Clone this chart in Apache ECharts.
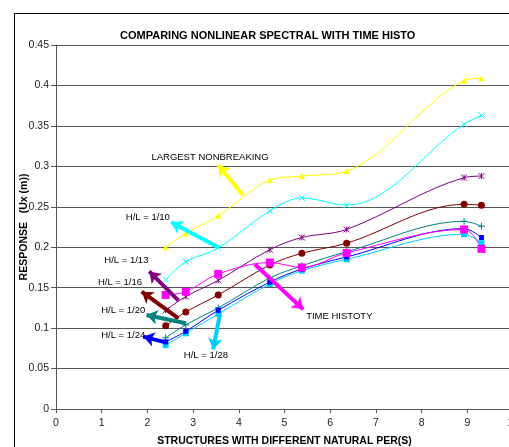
<!DOCTYPE html>
<html><head><meta charset="utf-8">
<script src="https://cdn.jsdelivr.net/npm/echarts@6/dist/echarts.min.js"></script>
<style>html,body{margin:0;padding:0;background:#fff}#c{width:509px;height:447px}</style>
</head><body><div id="c"></div>
<script>
const periods = [2.4, 2.84, 3.55, 4.68, 5.38, 6.36, 8.93, 9.31];
const nonbreaking = [0.200, 0.217, 0.239, 0.283, 0.288, 0.294, 0.406, 0.409];
const hl10 = [0.160, 0.182, 0.199, 0.245, 0.261, 0.252, 0.352, 0.363];
const hl13 = [0.122, 0.139, 0.159, 0.197, 0.212, 0.222, 0.286, 0.288];
const hl16 = [0.103, 0.120, 0.141, 0.178, 0.1925, 0.205, 0.253, 0.252];
const timeHistory = [0.141, 0.145, 0.167, 0.181, 0.175, 0.193, 0.222, 0.198];
const hl20 = [0.088, 0.104, 0.125, 0.162, 0.177, 0.1945, 0.232, 0.226];
const hl24 = [0.083, 0.096, 0.122, 0.157, 0.173, 0.188, 0.223, 0.212];
const hl28 = [0.079, 0.0936, 0.1175, 0.1545, 0.171, 0.185, 0.216, 0.205];
const xTicks = [0,1,2,3,4,5,6,7,8,9,10];
const yTicks = [0,0.05,0.1,0.15,0.2,0.25,0.3,0.35,0.4,0.45];

// annotation labels [text, x, y] and arrows [tailX, tailY, headX, headY] in data units
const annLabels = [
  ['LARGEST NONBREAKING', 3.37, 0.3115],
  ['H/L = 1/10', 2.01, 0.2374],
  ['H/L = 1/13', 1.54, 0.1842],
  ['H/L = 1/16', 1.40, 0.1561],
  ['H/L = 1/20', 1.47, 0.1215],
  ['H/L = 1/24', 1.47, 0.0915],
  ['H/L = 1/28', 3.28, 0.0659],
  ['TIME HISTOTY', 6.20, 0.115]
];
const arrowNonbreaking = [4.09, 0.2646, 3.55, 0.3016];
const arrow10 = [3.55, 0.1999, 2.52, 0.2308];
const arrow13 = [2.68, 0.1339, 2.04, 0.1701];
const arrow16 = [2.68, 0.1121, 1.875, 0.1450];
const arrow20 = [2.84, 0.1060, 1.98, 0.1162];
const arrow24 = [2.42, 0.0820, 1.91, 0.0894];
const arrow28 = [3.59, 0.1183, 3.44, 0.0738];
const arrowTime = [4.35, 0.1790, 5.41, 0.1232];

const X_PATH = 'path://M0,0L10,10M10,0L0,10';
const STAR_PATH = 'path://M0,0L10,10M10,0L0,10M5,0L5,10';
const PLUS_PATH = 'path://M5,0L5,10M0,5L10,5';

function mk(name, vals, color, symbol, size, arrow, stroke) {
  return {
    name, type: 'line', smooth: 0.35, data: periods.map((p, i) => [p, vals[i]]),
    symbol, symbolSize: size, showSymbol: true,
    lineStyle: { color, width: 1 },
    itemStyle: stroke ? { color, borderColor: color, borderWidth: 1 } : { color, borderWidth: 0 },
    markLine: {
      silent: true, symbol: ['none', 'arrow'], symbolSize: 11,
      label: { show: false },
      lineStyle: { color, width: 4, type: 'solid' },
      data: [[{ coord: [arrow[0], arrow[1]] }, { coord: [arrow[2], arrow[3]] }]]
    }
  };
}

const chart = echarts.init(document.getElementById('c'), null, { renderer: 'canvas' });
chart.setOption({
  animation: false,
  backgroundColor: '#fff',
  title: {
    text: 'COMPARING NONLINEAR SPECTRAL WITH TIME HISTO',
    left: 115, top: 25,
    textStyle: { fontFamily: 'Liberation Sans', fontSize: 11, fontWeight: 'bold', color: '#000' }
  },
  graphic: [{ type: 'rect', left: 12, top: 11, shape: { width: 520, height: 460 },
    style: { fill: 'none', stroke: '#000', lineWidth: 1 }, silent: true }],
  grid: { left: 56, top: 45, right: -4, bottom: 38, containLabel: false, outerBoundsMode: 'none' },
  xAxis: {
    type: 'value', min: 0, max: 10, interval: 1,
    name: 'STRUCTURES WITH DIFFERENT NATURAL PER(S)', nameLocation: 'middle', nameGap: 27,
    nameTextStyle: { fontFamily: 'Liberation Sans', fontSize: 10.5, fontWeight: 'bold', color: '#000' },
    axisLine: { lineStyle: { color: '#555', width: 1 } },
    axisTick: { show: true, length: 4, lineStyle: { color: '#555' } },
    axisLabel: { fontFamily: 'Liberation Sans', fontSize: 10.5, color: '#222', margin: 9,
      formatter: v => xTicks.includes(v) ? String(v) : '' },
    splitLine: { show: false }
  },
  yAxis: {
    type: 'value', min: 0, max: 0.45, interval: 0.05,
    name: 'RESPONSE   (Ux (m))', nameLocation: 'middle', nameGap: 26, nameMoveOverlap: false,
    nameTextStyle: { fontFamily: 'Liberation Sans', fontSize: 10.5, fontWeight: 'bold', color: '#000' },
    axisLine: { show: true, lineStyle: { color: '#555', width: 1 } },
    axisTick: { show: true, length: 5, lineStyle: { color: '#555' } },
    axisLabel: { fontFamily: 'Liberation Sans', fontSize: 10.5, color: '#222', margin: 7,
      formatter: v => { const t = yTicks.find(k => Math.abs(k - v) < 1e-9); return t === undefined ? '' : String(t); } },
    splitLine: { show: true, lineStyle: { color: '#555', width: 1 } }
  },
  series: [
    mk('LARGEST NONBREAKING', nonbreaking, '#FFFF00', 'triangle', 6, arrowNonbreaking, false),
    mk('H/L = 1/10', hl10, '#00FFFF', X_PATH, 6, arrow10, true),
    mk('H/L = 1/13', hl13, '#800080', STAR_PATH, 6, arrow13, true),
    mk('H/L = 1/16', hl16, '#800000', 'circle', 7, arrow16, false),
    mk('H/L = 1/20', hl20, '#008080', PLUS_PATH, 7, arrow20, true),
    mk('H/L = 1/28', hl28, '#00CCFF', 'rect', 6, arrow28, false),
    mk('H/L = 1/24', hl24, '#0000FF', 'rect', 5, arrow24, false),
    mk('TIME HISTOTY', timeHistory, '#FF00FF', 'rect', 8, arrowTime, false),
    {
      name: 'labels', type: 'scatter', data: [], silent: true,
      markPoint: {
        symbol: 'circle', symbolSize: 0, silent: true,
        label: { show: true, position: 'inside', fontFamily: 'Liberation Sans', fontSize: 9.5, color: '#000',
          formatter: p => p.name },
        data: annLabels.map(a => ({ name: a[0], coord: [a[1], a[2]] }))
      }
    }
  ]
});
</script></body></html>
